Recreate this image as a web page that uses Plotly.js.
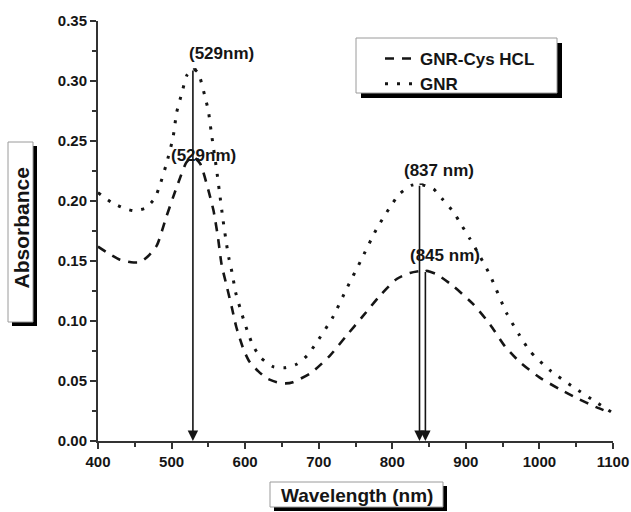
<!DOCTYPE html>
<html><head><meta charset="utf-8">
<script src="https://cdn.plot.ly/plotly-3.0.1.min.js"></script>
<style>html,body{margin:0;padding:0;background:#fff}#chart{width:631px;height:512px}</style>
</head><body><div id="chart"></div>
<script>
// Series: GNR-Cys HCL (dashed)
const wlCys  = [400, 415, 430, 445, 457, 468, 480, 493, 502, 509, 520, 529, 539, 550, 557, 563, 568, 575, 582, 588, 598, 606, 618, 630, 643, 655, 665, 690, 715, 738, 760, 783, 806, 824, 845, 860, 883, 910, 933, 953, 973, 1000, 1028, 1050, 1078, 1090];
const absCys = [0.162, 0.156, 0.151, 0.149, 0.149, 0.154, 0.163, 0.187, 0.203, 0.215, 0.232, 0.237, 0.231, 0.209, 0.192, 0.170, 0.147, 0.129, 0.111, 0.095, 0.076, 0.066, 0.058, 0.052, 0.049, 0.048, 0.049, 0.057, 0.071, 0.088, 0.104, 0.121, 0.135, 0.140, 0.142, 0.139, 0.129, 0.114, 0.097, 0.079, 0.066, 0.053, 0.043, 0.036, 0.028, 0.025];
// Series: GNR (dotted)
const wlGnr  = [400, 418, 435, 448, 464, 477, 484, 493, 502, 507, 514, 521, 529, 536, 545, 550, 554, 561, 565, 570, 575, 578, 582, 587, 593, 598, 604, 611, 622, 638, 654, 670, 684, 697, 719, 738, 757, 778, 797, 810, 826, 837, 856, 869, 883, 894, 905, 920, 933, 955, 973, 987, 1014, 1046, 1078, 1098];
const absGnr = [0.207, 0.199, 0.194, 0.192, 0.194, 0.202, 0.213, 0.231, 0.253, 0.274, 0.290, 0.305, 0.310, 0.307, 0.288, 0.275, 0.257, 0.227, 0.208, 0.184, 0.163, 0.152, 0.141, 0.124, 0.111, 0.101, 0.090, 0.079, 0.069, 0.062, 0.061, 0.064, 0.071, 0.082, 0.103, 0.127, 0.150, 0.176, 0.195, 0.206, 0.213, 0.214, 0.210, 0.201, 0.191, 0.180, 0.169, 0.153, 0.138, 0.107, 0.088, 0.075, 0.059, 0.045, 0.032, 0.024];
const seriesNames = ['GNR-Cys HCL', 'GNR'];
// Peak markers
const peakWl  = [529, 837, 845];
const peakAbs = [0.310, 0.214, 0.142];
const peakText = ['(529nm)', '(529nm)', '(837 nm)', '(845 nm)'];
const xTitle = 'Wavelength (nm)';
const yTitle = 'Absorbance';

const W = 631, H = 512, L = 98, R = 18, T = 21, B = 71;
const PW = W - L - R, PH = H - T - B;
const xp = px => (px - L) / PW;
const yp = py => (H - B - py) / PH;
const FONT = 'Liberation Sans, Arial, sans-serif';
const INK = '#151515';

function box(x0, y0, x1, y1, off) {
  return [
    {type: 'rect', xref: 'paper', yref: 'paper', x0: xp(x0 + off), x1: xp(x1 + off), y0: yp(y0 + off), y1: yp(y1 + off),
     fillcolor: '#000', line: {width: 0}, layer: 'below'},
    {type: 'rect', xref: 'paper', yref: 'paper', x0: xp(x0), x1: xp(x1), y0: yp(y0), y1: yp(y1),
     fillcolor: '#fff', line: {color: '#9a9a9a', width: 1}, layer: 'below'}
  ];
}

const traces = [
  {x: wlCys, y: absCys, name: seriesNames[0], type: 'scatter', mode: 'lines',
   line: {color: INK, width: 2.6, dash: '9px,8px', shape: 'spline', smoothing: 0.6}},
  {x: wlGnr, y: absGnr, name: seriesNames[1], type: 'scatter', mode: 'lines',
   line: {color: INK, width: 3, dash: '3px,9px', shape: 'spline', smoothing: 0.6}}
];

const annotations = [];
peakWl.forEach((w, i) => {
  annotations.push({x: w, y: 0, xref: 'x', yref: 'y', ax: w, ay: peakAbs[i], axref: 'x', ayref: 'y',
    text: '', showarrow: true, arrowhead: 2, arrowsize: 1.3, arrowwidth: 1.6, arrowcolor: INK, standoff: 0, startstandoff: 0});
});
const labelPos = [[568, 0.323], [544, 0.238], [863, 0.2257], [871, 0.155]];
peakText.forEach((t, i) => {
  annotations.push({x: labelPos[i][0], y: labelPos[i][1], xref: 'x', yref: 'y', text: t, showarrow: false,
    xanchor: 'center', yanchor: 'middle',
    font: {family: FONT, size: 17, color: INK, weight: 'bold'}});
});
annotations.push({x: xp(20.5), y: yp(228), xref: 'paper', yref: 'paper', text: yTitle, textangle: -90, showarrow: false,
  xanchor: 'center', yanchor: 'middle',
  font: {family: FONT, size: 21, color: INK, weight: 'bold'}});
annotations.push({x: xp(356.5), y: yp(495), xref: 'paper', yref: 'paper', text: xTitle, showarrow: false,
  xanchor: 'center', yanchor: 'middle',
  font: {family: FONT, size: 19, color: INK, weight: 'bold'}});

const shapes = [].concat(
  box(8, 142, 33, 322, 4),
  box(270, 482, 443, 507, 4),
  box(356, 38, 557, 93, 5)
);
// small caps at the top of the peak lines
peakWl.forEach((w, i) => {
  shapes.push({type: 'line', xref: 'x', yref: 'y', x0: w, x1: w + 5, y0: peakAbs[i], y1: peakAbs[i], line: {color: INK, width: 1.5}});
});

const axisCommon = {
  showline: true, linecolor: '#333', linewidth: 2, ticks: 'outside', ticklen: 6, tickwidth: 2, tickcolor: '#333',
  showgrid: false, zeroline: false, mirror: false,
  tickfont: {family: FONT, size: 15, color: INK, weight: 'bold'}
};

const layout = {
  width: W, height: H, margin: {l: L, r: R, t: T, b: B},
  paper_bgcolor: '#fff', plot_bgcolor: 'rgba(0,0,0,0)',
  showlegend: true,
  legend: {x: xp(380), y: yp(41), xanchor: 'left', yanchor: 'top', bgcolor: 'rgba(0,0,0,0)', borderwidth: 0,
    font: {family: FONT, size: 17, color: INK, weight: 'bold'}, traceorder: 'normal'},
  xaxis: Object.assign({}, axisCommon, {range: [400, 1100], dtick: 100, tick0: 400,
    minor: {dtick: 50, ticks: 'outside', ticklen: 4, tickwidth: 2, tickcolor: '#333'}}),
  yaxis: Object.assign({}, axisCommon, {range: [0, 0.35], dtick: 0.05, tick0: 0, tickformat: '.2f',
    minor: {dtick: 0.025, ticks: 'outside', ticklen: 4, tickwidth: 2, tickcolor: '#333'}}),
  shapes: shapes,
  annotations: annotations
};

Plotly.newPlot('chart', traces, layout, {displayModeBar: false, staticPlot: true});
</script>
</body></html>
